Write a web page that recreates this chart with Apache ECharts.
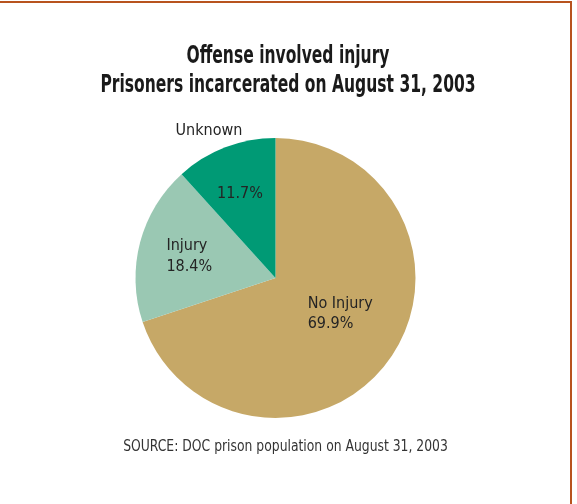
<!DOCTYPE html>
<html>
<head>
<meta charset="utf-8">
<script src="https://cdn.jsdelivr.net/npm/echarts@6/dist/echarts.min.js"></script>
<style>
  html, body { margin: 0; padding: 0; background: #ffffff; }
  #chart { width: 577px; height: 504px; }
</style>
</head>
<body>
<div id="chart"></div>
<script>
// Share of prisoners whose offense involved injury (August 31, 2003)
const categories = ['No Injury', 'Injury', 'Unknown'];
const shares = [69.9, 18.4, 11.7];
const sliceColors = ['#c6a867', '#9ac8b3', '#009a75'];

const titleLines = ['Offense involved injury', 'Prisoners incarcerated on August 31, 2003'];
const sourceNote = 'SOURCE: DOC prison population on August 31, 2003';

const FONT = '"DejaVu Sans Condensed", "Liberation Sans", sans-serif';
const TEXT = '#242424';
const pct = v => v.toFixed(1) + '%';

// Left-aligned two-line label (name over percentage)
function stacked(width, lineHeight, offset) {
  return {
    offset: offset,
    formatter: p => '{a|' + p.name + '}\n{a|' + pct(p.value) + '}',
    rich: {
      a: { fontFamily: FONT, fontSize: 16, color: TEXT, width: width, align: 'left', lineHeight: lineHeight }
    }
  };
}

const labelStyles = [
  stacked(70, 19.5, [8, -7]),
  stacked(50, 21, [-13.5, -3]),
  {
    // name sits above the slice, percentage inside it
    offset: [-9.3, -48],
    formatter: p => '{n|' + p.name + '}\n{s| }\n{v|' + pct(p.value) + '}',
    rich: {
      n: { fontFamily: FONT, fontSize: 16, color: TEXT, lineHeight: 20, padding: [0, 62, 0, 0] },
      s: { fontSize: 10, lineHeight: 43 },
      v: { fontFamily: FONT, fontSize: 16, color: TEXT, lineHeight: 20 }
    }
  }
];

function condensedText(text, x, y, size, weight, color, squeeze) {
  return {
    type: 'text',
    x: x,
    y: y,
    scaleX: squeeze,
    silent: true,
    style: {
      text: text,
      x: 0,
      y: 0,
      font: weight + ' ' + size + 'px ' + FONT,
      fill: color,
      align: 'center',
      verticalAlign: 'middle',
      textAlign: 'center',
      textVerticalAlign: 'middle'
    }
  };
}

const chart = echarts.init(document.getElementById('chart'), null, { renderer: 'canvas' });

chart.setOption({
  backgroundColor: '#ffffff',
  animation: false,
  graphic: [
    // frame lines along the top and right edges
    { type: 'line', shape: { x1: 0, y1: 2, x2: 572, y2: 2 }, style: { stroke: '#b8531e', lineWidth: 2 } },
    { type: 'line', shape: { x1: 571, y1: 1, x2: 571, y2: 504 }, style: { stroke: '#b8531e', lineWidth: 2 } },
    condensedText(titleLines[0], 288, 57, 24, 'bold', '#1a1a1a', 0.72),
    condensedText(titleLines[1], 288, 86, 24, 'bold', '#1a1a1a', 0.72),
    condensedText(sourceNote, 285.5, 446.5, 16, 'normal', '#333333', 0.86)
  ],
  series: [{
    type: 'pie',
    center: [275.5, 278],
    radius: [0, 140],
    startAngle: 90,
    clockwise: true,
    avoidLabelOverlap: false,
    emphasis: { disabled: true },
    labelLine: { show: false },
    itemStyle: { borderWidth: 0 },
    label: {
      show: true,
      position: 'inside',
      fontFamily: FONT,
      fontSize: 16,
      color: TEXT
    },
    data: categories.map((name, i) => ({
      name: name,
      value: shares[i],
      itemStyle: { color: sliceColors[i] },
      label: labelStyles[i]
    }))
  }]
});
</script>
</body>
</html>
